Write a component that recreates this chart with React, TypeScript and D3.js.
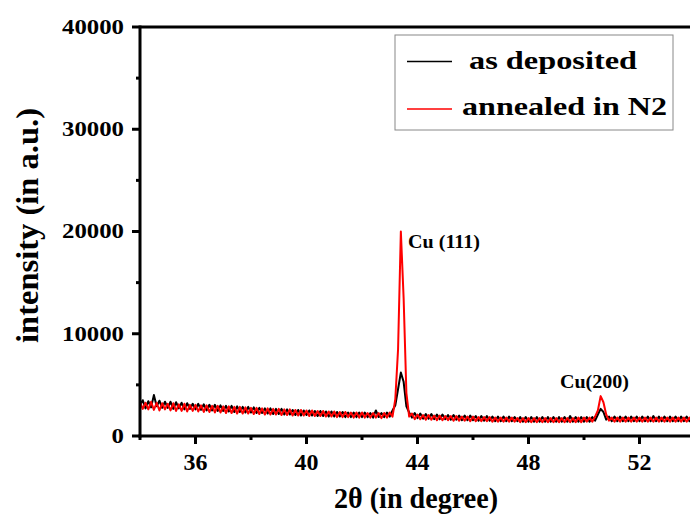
import React from "react";
import * as d3 from "d3";

const angleStart = 34;
const angleStep = 0.1;

const asDeposited = [
  3000, 3500, 2700, 3400, 2800, 4000, 2900, 3450, 2750, 3350,
  2750, 3350, 2650, 3300, 2700, 3250, 2600, 3200, 2650, 3150,
  2600, 3150, 2550, 3100, 2500, 3050, 2500, 3050, 2450, 3000,
  2450, 2950, 2400, 2950, 2350, 2900, 2350, 2850, 2300, 2850,
  2300, 2800, 2250, 2750, 2250, 2700, 2200, 2700, 2150, 2650,
  2150, 2650, 2100, 2600, 2100, 2550, 2050, 2550, 2000, 2500,
  2050, 2500, 2000, 2450, 1950, 2450, 1950, 2400, 1900, 2400,
  1900, 2350, 1900, 2350, 1850, 2300, 1850, 2300, 1850, 2300,
  1850, 2300, 1850, 2250, 1800, 2500, 1850, 2250, 1850, 2300,
  1900, 2500, 3000, 4600, 6200, 5300, 2900, 2300, 1800, 2250,
  1750, 2200, 1700, 2150, 1700, 2150, 1650, 2100, 1650, 2100,
  1650, 2050, 1600, 2050, 1600, 2000, 1550, 2000, 1550, 2000,
  1550, 1950, 1500, 1950, 1500, 1950, 1500, 1900, 1450, 1900,
  1450, 1900, 1450, 1900, 1450, 1850, 1450, 1850, 1400, 1850,
  1400, 1850, 1400, 1850, 1400, 1850, 1400, 1850, 1400, 1850,
  1400, 1850, 1400, 1850, 1400, 1950, 1400, 1850, 1400, 1850,
  1400, 1850, 1400, 1850, 1500, 2100, 2650, 2350, 1600, 1900,
  1450, 1900, 1450, 1900, 1450, 1900, 1450, 1900, 1450, 1900,
  1450, 1900, 1450, 1900, 1450, 1950, 1450, 1900, 1450, 1900,
  1450, 1900, 1450, 1900, 1450, 1900, 1450, 1900, 1450, 1900,
  1450,
];

const annealedN2 = [
  3300, 2650, 3250, 2600, 3350, 2550, 3250, 2500, 3200, 2600,
  3150, 2500, 3200, 2450, 3100, 2450, 3150, 2400, 3050, 2450,
  3050, 2400, 3000, 2350, 3000, 2350, 2950, 2300, 2950, 2300,
  2900, 2250, 2900, 2250, 2850, 2200, 2850, 2200, 2800, 2200,
  2750, 2150, 2750, 2150, 2700, 2100, 2700, 2100, 2650, 2100,
  2650, 2050, 2600, 2050, 2600, 2000, 2550, 2000, 2550, 2000,
  2500, 1950, 2500, 1950, 2450, 1950, 2450, 1900, 2400, 1900,
  2400, 1850, 2350, 1850, 2350, 1850, 2300, 1800, 2300, 1800,
  2300, 1800, 2250, 1800, 2250, 1800, 2250, 1750, 2250, 1800,
  2300, 1900, 3600, 8500, 20000, 13500, 4200, 1900, 2200, 1650,
  2100, 1650, 2050, 1600, 2050, 1600, 2000, 1550, 2000, 1550,
  1950, 1550, 1950, 1500, 1950, 1500, 1900, 1500, 1900, 1450,
  1900, 1450, 1850, 1450, 1850, 1450, 1850, 1400, 1800, 1400,
  1800, 1400, 1800, 1400, 1800, 1400, 1750, 1350, 1750, 1350,
  1750, 1350, 1750, 1350, 1750, 1350, 1750, 1350, 1750, 1350,
  1750, 1350, 1750, 1350, 1750, 1350, 1750, 1350, 1800, 1350,
  1800, 1400, 1800, 1400, 1900, 2500, 3900, 3300, 2100, 1500,
  1800, 1400, 1800, 1400, 1800, 1400, 1800, 1400, 1800, 1400,
  1800, 1400, 1800, 1400, 1800, 1400, 1800, 1400, 1800, 1400,
  1800, 1400, 1800, 1400, 1800, 1400, 1800, 1400, 1800, 1400,
  1800,
];

const xTicks = [36, 40, 44, 48, 52];
const xMinorTicks = [34, 38, 42, 46, 50, 54];
const yTicks = [0, 10000, 20000, 30000, 40000];
const yMinorTicks = [5000, 15000, 25000, 35000];

const seriesNames = ["as deposited", "annealed in N2"];
const seriesColors = ["#000000", "#ff0000"];
const peakLabels = ["Cu (111)", "Cu(200)"];

const FONT = "'Liberation Serif', 'Times New Roman', serif";

export default function App() {
  const width = 690;
  const height = 521;
  const left = 140;
  const top = 27;
  const bottom = 436;
  const x = d3.scaleLinear().domain([34, 54]).range([left, left + 20 * 27.75]);
  const y = d3.scaleLinear().domain([0, 40000]).range([bottom, top]);

  const toPts = (arr: number[]) =>
    arr.map((v, i) => [angleStart + i * angleStep, v] as [number, number]);
  const line = d3
    .line<[number, number]>()
    .x((d) => x(d[0]))
    .y((d) => y(d[1]));

  const series = [asDeposited, annealedN2];

  return (
    <svg
      width={width}
      height={height}
      style={{ position: "absolute", left: 0, top: 0, background: "#fff" }}
      fontFamily={FONT}
      fontWeight="bold"
    >
      <defs>
        <clipPath id="plot">
          <rect x={left} y={top} width={width - left} height={bottom - top} />
        </clipPath>
      </defs>
      <g clipPath="url(#plot)">
        {series.map((s, i) => (
          <path
            key={i}
            d={line(toPts(s)) || ""}
            fill="none"
            stroke={seriesColors[i]}
            strokeWidth={2}
            strokeLinejoin="round"
          />
        ))}
      </g>
      {/* axes frame */}
      <line x1={left} x2={width} y1={top} y2={top} stroke="#000" strokeWidth={3} />
      <line x1={left} x2={left} y1={top - 1.5} y2={bottom + 1.5} stroke="#000" strokeWidth={3} />
      <line x1={left - 1.5} x2={width} y1={bottom} y2={bottom} stroke="#000" strokeWidth={3} />
      {/* y ticks */}
      {yTicks.map((t) => (
        <g key={t}>
          <line x1={left - 8} x2={left} y1={y(t)} y2={y(t)} stroke="#000" strokeWidth={3} />
          <text
            x={124}
            y={y(t)}
            dy="0.34em"
            textAnchor="end"
            fontSize={20}
            textLength={String(t).length * 12.4}
            lengthAdjust="spacingAndGlyphs"
          >
            {t}
          </text>
        </g>
      ))}
      {yMinorTicks.map((t) => (
        <line key={t} x1={left - 4} x2={left} y1={y(t)} y2={y(t)} stroke="#000" strokeWidth={3} />
      ))}
      {/* x ticks */}
      {xTicks.map((t) => (
        <g key={t}>
          <line x1={x(t)} x2={x(t)} y1={bottom} y2={bottom + 8} stroke="#000" strokeWidth={3} />
          <text
            x={x(t)}
            y={470}
            textAnchor="middle"
            fontSize={22.5}
            textLength={24}
            lengthAdjust="spacingAndGlyphs"
          >
            {t}
          </text>
        </g>
      ))}
      {xMinorTicks.map((t) => (
        <line key={t} x1={x(t)} x2={x(t)} y1={bottom} y2={bottom + 4} stroke="#000" strokeWidth={3} />
      ))}
      {/* axis titles */}
      <text
        x={416}
        y={508}
        textAnchor="middle"
        fontSize={30}
        textLength={164}
        lengthAdjust="spacingAndGlyphs"
      >
        2θ (in degree)
      </text>
      <text
        transform="translate(38,225.5) rotate(-90)"
        textAnchor="middle"
        fontSize={31}
        textLength={235}
        lengthAdjust="spacingAndGlyphs"
      >
        intensity (in a.u.)
      </text>
      {/* peak labels */}
      <text x={408} y={248} fontSize={19} textLength={72} lengthAdjust="spacingAndGlyphs">
        {peakLabels[0]}
      </text>
      <text x={560} y={388} fontSize={19.5} textLength={69} lengthAdjust="spacingAndGlyphs">
        {peakLabels[1]}
      </text>
      {/* legend */}
      <rect x={395} y={35} width={278} height={95} fill="#fff" stroke="#888" strokeWidth={1} />
      {seriesNames.map((n, i) => (
        <g key={n}>
          <line
            x1={407}
            x2={452}
            y1={61.5 + i * 47.5}
            y2={61.5 + i * 47.5}
            stroke={seriesColors[i]}
            strokeWidth={1.5}
          />
          <text
            x={i === 0 ? 469 : 462}
            y={i === 0 ? 69 : 115}
            fontSize={25}
            textLength={i === 0 ? 168 : 205}
            lengthAdjust="spacingAndGlyphs"
          >
            {n}
          </text>
        </g>
      ))}
    </svg>
  );
}
